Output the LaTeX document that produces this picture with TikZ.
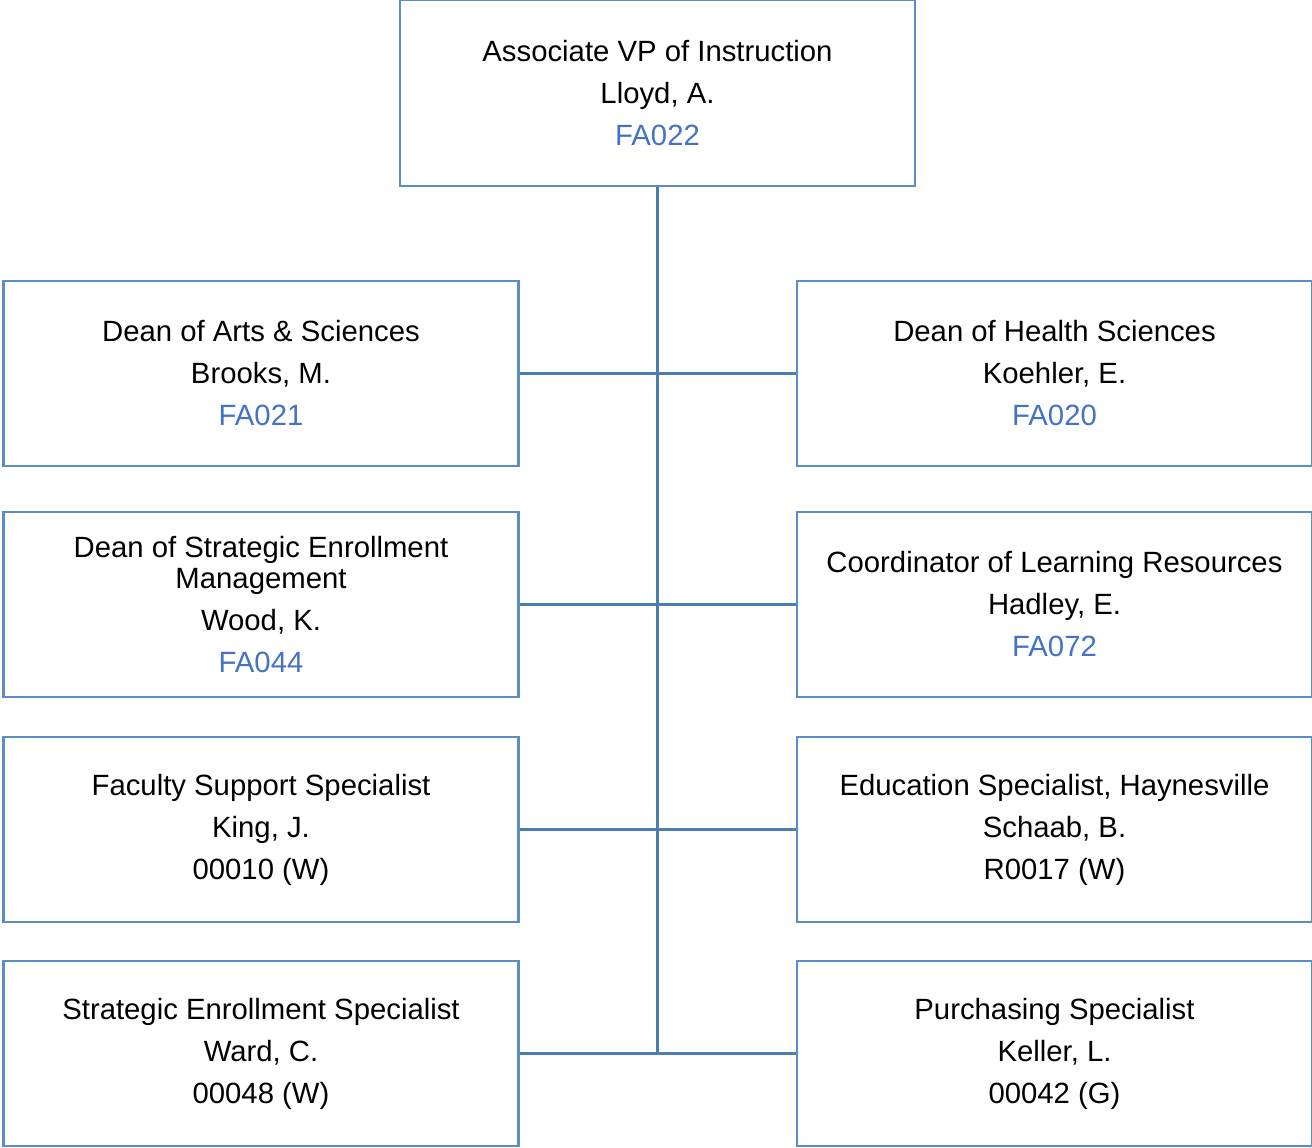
\documentclass[tikz,border=0pt]{standalone}
\usepackage{fontspec}
\setmainfont{Liberation Sans}
\definecolor{boxblue}{HTML}{5B8EC6}
\definecolor{lineblue}{HTML}{4A7EB0}
\definecolor{codeblue}{HTML}{4472C4}
\tikzset{
  unit/.style={draw=boxblue,line width=2.4pt,fill=white,rectangle,inner sep=0pt,
    minimum width=515pt,minimum height=185pt,align=center,
    font=\fontsize{29.3}{31}\selectfont},
  orgline/.style={draw=lineblue,line width=2.8pt}
}
\newcommand{\code}[1]{\textcolor{codeblue}{#1}}
\begin{document}
\begin{tikzpicture}[x=1pt,y=-1pt]
  \useasboundingbox (0,0) rectangle (1312,1148);
  \def\lx{261}    % centre of left column
  \def\rx{1054.5} % centre of right column
  % boxes
  \node[unit,minimum height=186pt] (avp) at (657.5,93) {Associate VP of Instruction\\[11pt]Lloyd, A.\\[11pt]\code{FA022}};
  \node[unit] (arts) at (\lx,373.5) {Dean of Arts \& Sciences\\[11pt]Brooks, M.\\[11pt]\code{FA021}};
  \node[unit] (health) at (\rx,373.5) {Dean of Health Sciences\\[11pt]Koehler, E.\\[11pt]\code{FA020}};
  \node[unit] (enroll) at (\lx,604.5) {Dean of Strategic Enrollment\\Management\\[11pt]Wood, K.\\[11pt]\code{FA044}};
  \node[unit] (learn) at (\rx,604.5) {Coordinator of Learning Resources\\[11pt]Hadley, E.\\[11pt]\code{FA072}};
  \node[unit] (faculty) at (\lx,829.5) {Faculty Support Specialist\\[11pt]King, J.\\[11pt]00010 (W)};
  \node[unit] (educ) at (\rx,829.5) {Education Specialist, Haynesville\\[11pt]Schaab, B.\\[11pt]R0017 (W)};
  \node[unit] (stratspec) at (\lx,1053.5) {Strategic Enrollment Specialist\\[11pt]Ward, C.\\[11pt]00048 (W)};
  \node[unit] (purch) at (\rx,1053.5) {Purchasing Specialist\\[11pt]Keller, L.\\[11pt]00042 (G)};
  % connectors
  \coordinate (trunk) at (avp.south |- stratspec.east);
  \draw[orgline] (avp.south) -- (trunk);
  \draw[orgline] (arts.east) -- (health.west);
  \draw[orgline] (enroll.east) -- (learn.west);
  \draw[orgline] (faculty.east) -- (educ.west);
  \draw[orgline] (stratspec.east) -- (purch.west);
\end{tikzpicture}
\end{document}
